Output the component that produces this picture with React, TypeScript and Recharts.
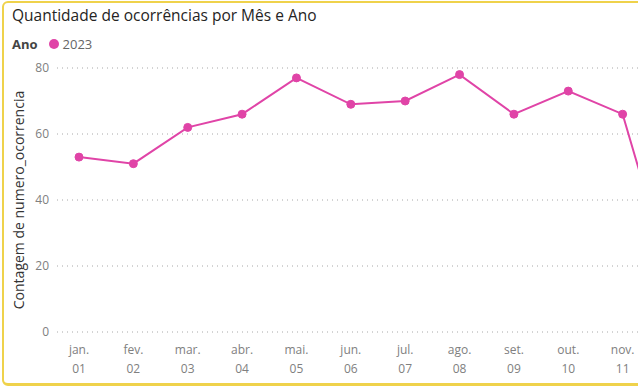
import { LineChart, Line, XAxis, YAxis, CartesianGrid } from 'recharts'

const meses = ['jan.', 'fev.', 'mar.', 'abr.', 'mai.', 'jun.', 'jul.', 'ago.', 'set.', 'out.', 'nov.', 'dez.']
const numeros = ['01', '02', '03', '04', '05', '06', '07', '08', '09', '10', '11', '12']
const ocorrencias2023 = [53, 51, 62, 66, 77, 69, 70, 78, 66, 73, 66, 10]
const yTicks = [0, 20, 40, 60, 80]

const data = meses.map((m, i) => ({ mes: m, num: numeros[i], total: ocorrencias2023[i] }))

const PINK = '#E044A7'
const FONT = '"Open Sans", "Segoe UI", sans-serif'

function MonthTick(props: any) {
  const { x, y, payload, index } = props
  return (
    <g transform={`translate(${x},${y})`}>
      <text textAnchor="middle" fill="#808080" fontSize={12} fontFamily={FONT}>
        <tspan x={0} dy={14}>{payload.value}</tspan>
        <tspan x={0} dy={19}>{numeros[index]}</tspan>
      </text>
    </g>
  )
}

export default function App() {
  return (
    <div style={{ position: 'absolute', left: 0, top: 0, width: 638, height: 388, overflow: 'hidden', background: '#fff' }}>
      <div
        style={{
          position: 'absolute', left: 2, top: 1, width: 800, height: 385,
          border: '2px solid #EFD24B', borderBottomWidth: 3, borderRadius: 6, boxSizing: 'border-box',
        }}
      />
      <div style={{ position: 'absolute', left: 12, top: 4, fontFamily: FONT, fontSize: 15.5, color: '#252423' }}>
        Quantidade de ocorrências por Mês e Ano
      </div>
      <div style={{ position: 'absolute', left: 12, top: 35, fontFamily: FONT, fontSize: 13, display: 'flex', alignItems: 'center' }}>
        <span style={{ fontWeight: 700, color: '#444' }}>Ano</span>
        <span style={{ display: 'inline-block', width: 10, height: 10, borderRadius: 5, background: PINK, marginLeft: 11, marginRight: 4 }} />
        <span style={{ color: '#666' }}>2023</span>
      </div>
      <div style={{ position: 'absolute', left: 0, top: 0 }}>
        <LineChart width={760} height={388} data={data} margin={{ top: 68, right: 61, bottom: 16, left: 0 }}>
          <CartesianGrid vertical={false} stroke="#a8a8a8" strokeDasharray="1 4" />
          <XAxis
            dataKey="mes"
            height={40}
            axisLine={false}
            tickLine={false}
            interval={0}
            padding={{ left: 22, right: 22 }}
            tick={<MonthTick />}
          />
          <YAxis
            width={57}
            domain={[0, 80]}
            ticks={yTicks}
            axisLine={false}
            tickLine={false}
            tick={{ fill: '#808080', fontSize: 12, fontFamily: FONT }}
            label={{
              value: 'Contagem de numero_ocorrencia',
              angle: -90,
              position: 'insideLeft',
              offset: 19,
              style: { textAnchor: 'middle', fill: '#333', fontSize: 14, fontFamily: FONT },
            }}
          />
          <Line
            type="linear"
            dataKey="total"
            stroke={PINK}
            strokeWidth={2}
            dot={{ r: 4, fill: PINK, stroke: PINK, strokeWidth: 1 }}
            isAnimationActive={false}
          />
        </LineChart>
      </div>
    </div>
  )
}
